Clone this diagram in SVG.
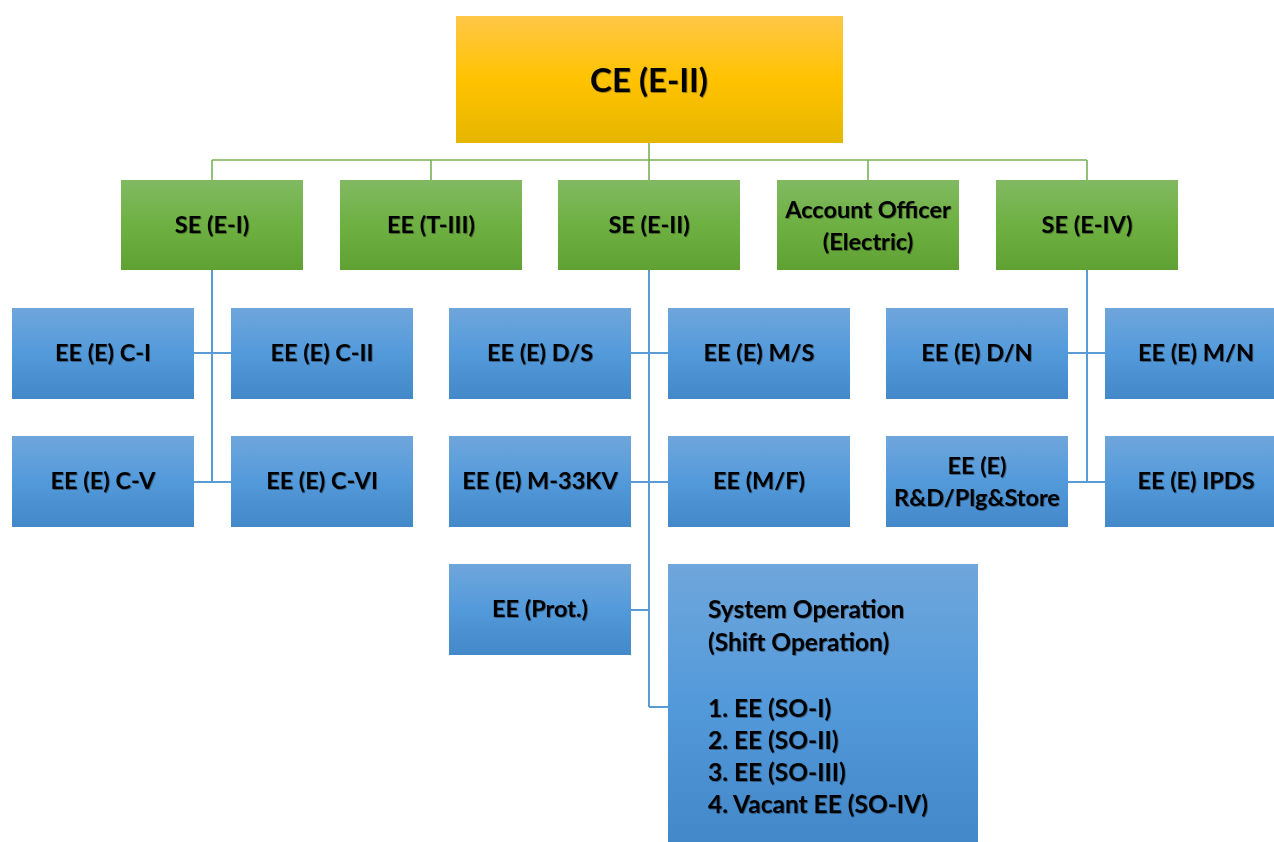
<svg xmlns="http://www.w3.org/2000/svg" width="1274" height="842" viewBox="0 0 1274 842">
  <defs>
    <linearGradient id="gGold" x1="0" y1="0" x2="0" y2="1">
      <stop offset="0" stop-color="#FFC747"/>
      <stop offset="0.5" stop-color="#FFC300"/>
      <stop offset="1" stop-color="#E6B600"/>
    </linearGradient>
    <linearGradient id="gGreen" x1="0" y1="0" x2="0" y2="1">
      <stop offset="0" stop-color="#81B962"/>
      <stop offset="0.5" stop-color="#6EB042"/>
      <stop offset="1" stop-color="#5FA133"/>
    </linearGradient>
    <linearGradient id="gBlue" x1="0" y1="0" x2="0" y2="1">
      <stop offset="0" stop-color="#6FA6DB"/>
      <stop offset="0.5" stop-color="#539ADB"/>
      <stop offset="1" stop-color="#4388C8"/>
    </linearGradient>
    <filter id="txtShadow" x="-5%" y="-20%" width="110%" height="140%">
      <feDropShadow dx="0.8" dy="0.8" stdDeviation="0.7" flood-color="#000" flood-opacity="0.45"/>
    </filter>
    <style>
      .top { fill: url(#gGold); }
      .mid { fill: url(#gGreen); }
      .sub { fill: url(#gBlue); }
      text { font-family: Lato, "Open Sans", sans-serif; font-weight: 700; fill: #000; filter: url(#txtShadow); }
      .lbl { font-size: 23.5px; text-anchor: middle; }
      .big { font-size: 33px; text-anchor: middle; }
      .list { font-size: 24.5px; }
      .g { stroke: #77B255; stroke-width: 1.6; fill: none; }
      .b { stroke: #5B9BD5; stroke-width: 2; fill: none; }
    </style>
  </defs>
  <rect width="1274" height="842" fill="#fff"/>

  <!-- connectors -->
  <g id="connectors">
    <path class="g" d="M649 143 V180 M212 160 H1087 M212 160 V180 M431 160 V180 M868 160 V180 M1087 160 V180"/>
    <path class="b" d="M212 270 V482 M194 353 H231 M194 482 H231"/>
    <path class="b" d="M649 270 V707 M631 353 H668 M631 482 H668 M631 610 H649 M649 707 H668"/>
    <path class="b" d="M1087 270 V482 M1068 353 H1105 M1068 482 H1105"/>
  </g>

  <!-- top -->
  <g id="ce-e2"><rect class="top" x="456" y="16" width="387" height="127"/><text class="big" x="649" y="92">CE (E-II)</text></g>

  <!-- second level -->
  <g id="se-e1"><rect class="mid" x="121" y="180" width="182" height="90"/><text class="lbl" x="212" y="233">SE (E-I)</text></g>
  <g id="ee-t3"><rect class="mid" x="340" y="180" width="182" height="90"/><text class="lbl" x="431" y="233">EE (T-III)</text></g>
  <g id="se-e2"><rect class="mid" x="558" y="180" width="182" height="90"/><text class="lbl" x="649" y="233">SE (E-II)</text></g>
  <g id="account-officer"><rect class="mid" x="777" y="180" width="182" height="90"/><text class="lbl" x="868" y="218">Account Officer</text><text class="lbl" x="868" y="250">(Electric)</text></g>
  <g id="se-e4"><rect class="mid" x="996" y="180" width="182" height="90"/><text class="lbl" x="1087" y="233">SE (E-IV)</text></g>

  <!-- SE (E-I) branch -->
  <g id="ee-c1"><rect class="sub" x="12" y="308" width="182" height="91"/><text class="lbl" x="103" y="361">EE (E) C-I</text></g>
  <g id="ee-c2"><rect class="sub" x="231" y="308" width="182" height="91"/><text class="lbl" x="322" y="361">EE (E) C-II</text></g>
  <g id="ee-c5"><rect class="sub" x="12" y="436" width="182" height="91"/><text class="lbl" x="103" y="489">EE (E) C-V</text></g>
  <g id="ee-c6"><rect class="sub" x="231" y="436" width="182" height="91"/><text class="lbl" x="322" y="489">EE (E) C-VI</text></g>

  <!-- SE (E-II) branch -->
  <g id="ee-ds"><rect class="sub" x="449" y="308" width="182" height="91"/><text class="lbl" x="540" y="361">EE (E) D/S</text></g>
  <g id="ee-ms"><rect class="sub" x="668" y="308" width="182" height="91"/><text class="lbl" x="759" y="361">EE (E) M/S</text></g>
  <g id="ee-m33kv"><rect class="sub" x="449" y="436" width="182" height="91"/><text class="lbl" x="540" y="489">EE (E) M-33KV</text></g>
  <g id="ee-mf"><rect class="sub" x="668" y="436" width="182" height="91"/><text class="lbl" x="759" y="489">EE (M/F)</text></g>
  <g id="ee-prot"><rect class="sub" x="449" y="564" width="182" height="91"/><text class="lbl" x="540" y="617">EE (Prot.)</text></g>
  <g id="system-operation">
    <rect class="sub" x="668" y="564" width="310" height="278"/>
    <text class="list" x="708" y="618">System Operation</text>
    <text class="list" x="708" y="651">(Shift Operation)</text>
    <text class="list" x="708" y="717">1. EE (SO-I)</text>
    <text class="list" x="708" y="749">2. EE (SO-II)</text>
    <text class="list" x="708" y="781">3. EE (SO-III)</text>
    <text class="list" x="708" y="813">4. Vacant EE (SO-IV)</text>
  </g>

  <!-- SE (E-IV) branch -->
  <g id="ee-dn"><rect class="sub" x="886" y="308" width="182" height="91"/><text class="lbl" x="977" y="361">EE (E) D/N</text></g>
  <g id="ee-mn"><rect class="sub" x="1105" y="308" width="182" height="91"/><text class="lbl" x="1196" y="361">EE (E) M/N</text></g>
  <g id="ee-rd"><rect class="sub" x="886" y="436" width="182" height="91"/><text class="lbl" x="977" y="474">EE (E)</text><text class="lbl" x="977" y="506">R&amp;D/Plg&amp;Store</text></g>
  <g id="ee-ipds"><rect class="sub" x="1105" y="436" width="182" height="91"/><text class="lbl" x="1196" y="489">EE (E) IPDS</text></g>
</svg>
